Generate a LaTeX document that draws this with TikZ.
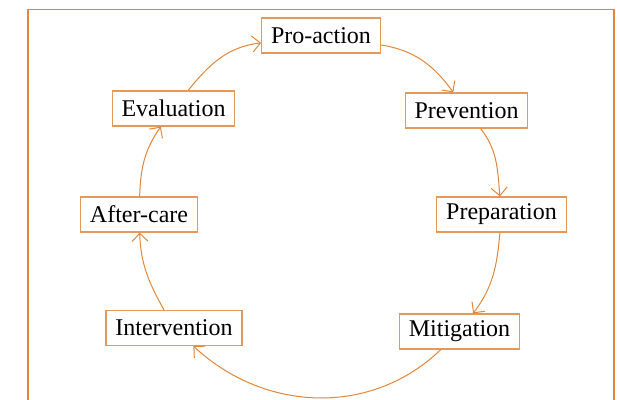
\documentclass[tikz,border=0pt]{standalone}
\usepackage{fontspec}
\setmainfont{Liberation Serif}
\usetikzlibrary{arrows.meta}
\definecolor{cycleorange}{RGB}{226,134,56}

\begin{document}
\begin{tikzpicture}[x=0.5pt,y=0.5pt,
		phase/.style={draw=cycleorange!85,line width=0.6pt,fill=white,inner xsep=4.7pt,minimum height=17.5pt,font=\fontsize{12}{14}\selectfont},
		flow/.style={draw=cycleorange,line width=0.5pt,-{Straight Barb[length=4pt,width=8pt]}}]
		\useasboundingbox (0,0) rectangle (617,400);
		\draw[cycleorange,line width=0.65pt] (28,0) -- (28,390.5) -- (614,390.5) -- (614,0);
		\node[phase] (proaction) at (321,364.5) {Pro-action};
		\node[phase] (prevention) at (466.5,289.5) {Prevention};
		\node[phase] (preparation) at (501.5,185.5) {Preparation};
		\node[phase] (mitigation) at (459.5,68.5) {Mitigation};
		\node[phase] (intervention) at (174,72) {Intervention};
		\node[phase] (aftercare) at (139,185.5) {After-care};
		\node[phase] (evaluation) at (173.5,291.5) {Evaluation};
		\draw[flow] (proaction) to[out=-9,in=126] (prevention);
		\draw[flow] (prevention) to[out=-52,in=95] (preparation);
		\draw[flow] (preparation) to[out=-95,in=53] (mitigation);
		\draw[flow] (mitigation) to[out=224,in=317] (intervention);
		\draw[flow] (intervention) to[out=119,in=-88] (aftercare);
		\draw[flow] (aftercare) to[out=88,in=235] (evaluation);
		\draw[flow] (evaluation) to[out=51,in=187] (proaction);
	\end{tikzpicture}
\end{document}
